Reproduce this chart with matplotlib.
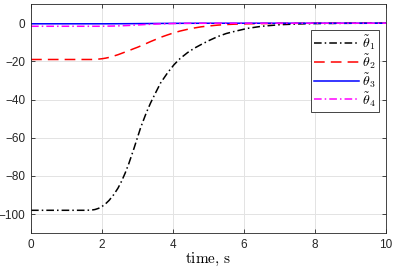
import numpy as np
import matplotlib
matplotlib.use("Agg")
import matplotlib.pyplot as plt

plt.rcParams['mathtext.fontset'] = 'cm'
plt.rcParams['font.family'] = ['Liberation Sans', 'DejaVu Sans']

# time samples (s) and error angles
t = [0, 0.5, 1.0, 1.5, 1.7, 1.8, 1.9, 2.0, 2.1, 2.2, 2.33, 2.45, 2.55, 2.65,
     2.75, 2.9, 3.0, 3.09, 3.25, 3.37, 3.5, 3.65, 3.85, 4.03, 4.2, 4.41, 4.6,
     4.79, 5.0, 5.26, 5.5, 5.73, 6.1, 6.5, 7.0, 7.5, 8.0, 9.0, 10.0]
theta1 = [-98, -98, -98, -98, -97.9, -97.6, -97.0, -96.0, -94.6, -92.8, -89.8,
          -86.4, -82.8, -78.6, -73.8, -65.6, -59.8, -54.6, -46.8, -41.7, -36.8,
          -31.3, -25.9, -21.7, -18.5, -15.4, -13.1, -11.2, -9.2, -7.0, -5.4,
          -4.3, -2.7, -1.6, -0.8, -0.4, -0.2, -0.05, 0]
theta2 = [-19, -19, -19, -19, -19, -18.95, -18.8, -18.6, -18.3, -17.9, -17.2,
          -16.5, -15.8, -15.1, -14.4, -13.3, -12.6, -11.9, -10.6, -9.6, -8.6,
          -7.4, -6.1, -5.0, -4.1, -3.2, -2.5, -1.9, -1.45, -1.0, -0.7, -0.5,
          -0.3, -0.2, -0.1, -0.05, 0, 0, 0]
theta3 = [-0.3, -0.3, -0.3, -0.3, -0.3, -0.3, -0.3, -0.3, -0.3, -0.29, -0.28,
          -0.27, -0.26, -0.25, -0.24, -0.22, -0.2, -0.19, -0.17, -0.15, -0.13,
          -0.11, -0.09, -0.07, -0.05, -0.04, -0.03, -0.02, -0.015, -0.01, 0, 0,
          0, 0, 0, 0, 0, 0, 0]
theta4 = [-1.6, -1.6, -1.6, -1.6, -1.6, -1.6, -1.6, -1.58, -1.55, -1.52, -1.47,
          -1.4, -1.33, -1.26, -1.18, -1.02, -0.92, -0.82, -0.66, -0.55, -0.45,
          -0.35, -0.24, -0.16, -0.1, -0.06, -0.04, -0.02, -0.01, 0, 0, 0, 0, 0,
          0, 0, 0, 0, 0]

fig = plt.figure(figsize=(3.93, 2.75), dpi=100)
ax = fig.add_axes([0.079, 0.152, 0.903, 0.833])

ax.plot(t, theta1, color='black', linestyle=(0, (5, 2, 1, 2)), linewidth=1.1,
        label=r'$\tilde{\theta}_1$')
ax.plot(t, theta2, color='red', linestyle=(0, (7, 4)), linewidth=1.1,
        label=r'$\tilde{\theta}_2$')
ax.plot(t, theta3, color='blue', linestyle='-', linewidth=1.1,
        label=r'$\tilde{\theta}_3$')
ax.plot(t, theta4, color='magenta', linestyle=(0, (5, 2, 1, 2)), linewidth=1.1,
        label=r'$\tilde{\theta}_4$')

ax.set_xlim(0, 10)
ax.set_ylim(-110, 10)
ax.set_xticks([0, 2, 4, 6, 8, 10])
ax.set_yticks([-100, -80, -60, -40, -20, 0])
ax.grid(True, color='#e3e3e3', linewidth=0.7)
ax.set_axisbelow(True)
ax.tick_params(direction='in', top=True, right=True, length=3, width=0.6,
               labelsize=8.5, colors='#262626', pad=4)
for s in ax.spines.values():
    s.set_linewidth(0.6)
    s.set_color('#262626')

ax.set_xlabel(r'$\mathrm{time,\,s}$', fontsize=11, labelpad=0)

leg = ax.legend(loc='upper right', bbox_to_anchor=(0.993, 0.905), fontsize=10,
                fancybox=False, framealpha=1, edgecolor='#262626',
                handlelength=3.2, handletextpad=0.25, borderpad=0.25,
                labelspacing=0.0, borderaxespad=0.3)
leg.get_frame().set_linewidth(0.6)

fig.savefig('out.png', dpi=100)
